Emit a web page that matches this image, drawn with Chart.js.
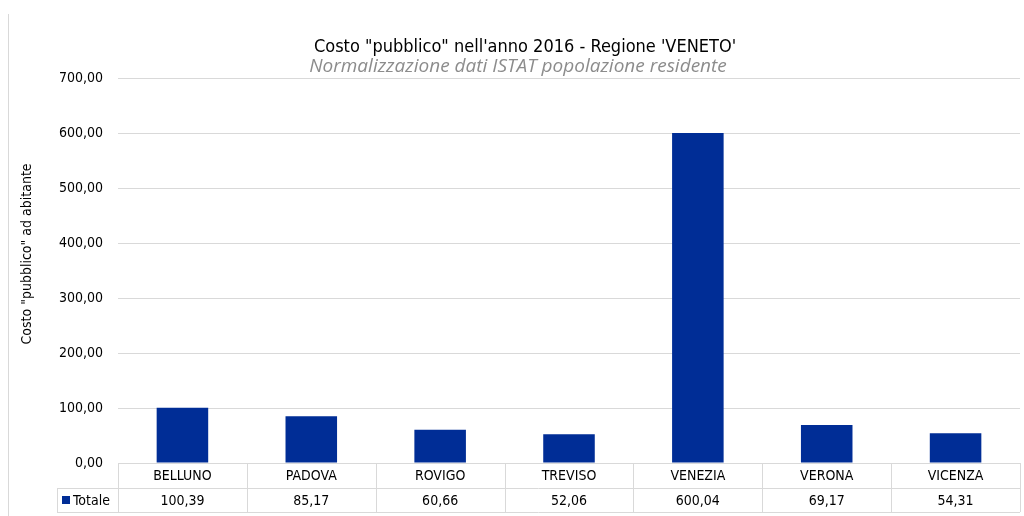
<!DOCTYPE html>
<html>
<head>
<meta charset="utf-8">
<script src="https://cdn.jsdelivr.net/npm/chart.js@4.4.1/dist/chart.umd.min.js"></script>
<style>
  body { margin: 0; background: #fff; }
  #wrap { width: 1024px; height: 516px; }
</style>
</head>
<body>
<div id="wrap"><canvas id="chart"></canvas></div>
<script>
// data
const province = ['BELLUNO', 'PADOVA', 'ROVIGO', 'TREVISO', 'VENEZIA', 'VERONA', 'VICENZA'];
const totale = [100.39, 85.17, 60.66, 52.06, 600.04, 69.17, 54.31];
const seriesName = 'Totale';
const titolo = 'Costo "pubblico" nell\'anno 2016 - Regione \'VENETO\'';
const sottotitolo = 'Normalizzazione dati ISTAT popolazione residente';
const yTitolo = 'Costo "pubblico" ad abitante';

const narrow = '"Liberation Sans Narrow", "DejaVu Sans Condensed", "Roboto", sans-serif';
const blu = '#002d96';
const lineCol = '#d9d9d9';

const fmt = v => v.toFixed(2).replace('.', ',');

// draws title, y title, and the data table under the plot
const tablePlugin = {
    id: 'tablePlugin',
    afterDraw(chart) {
        const ctx = chart.ctx;
        const area = chart.chartArea;
        const x = chart.scales.x;
        const n = province.length;
        const step = (area.right - area.left) / n;
        const row1 = area.bottom + 25;
        const row2 = area.bottom + 49;

        ctx.save();
        // outer frame line on the left
        ctx.strokeStyle = lineCol;
        ctx.lineWidth = 1;
        ctx.beginPath();
        ctx.moveTo(8.5, 14);
        ctx.lineTo(8.5, 516);
        ctx.stroke();

        // table lines
        ctx.beginPath();
        ctx.moveTo(area.left, area.bottom + 0.5);
        ctx.lineTo(area.right, area.bottom + 0.5);
        ctx.moveTo(57, row1 + 0.5);
        ctx.lineTo(area.right, row1 + 0.5);
        ctx.moveTo(57, row2 + 0.5);
        ctx.lineTo(area.right, row2 + 0.5);
        ctx.moveTo(57.5, row1);
        ctx.lineTo(57.5, row2);
        for (let i = 0; i <= n; i++) {
            const px = Math.round(area.left + i * step) + 0.5;
            ctx.moveTo(px, area.bottom);
            ctx.lineTo(px, row2);
        }
        ctx.stroke();

        // table text
        ctx.fillStyle = '#000';
        ctx.font = '14px ' + narrow;
        ctx.textAlign = 'center';
        ctx.textBaseline = 'middle';
        province.forEach((p, i) => {
            const cx = x.getPixelForValue(i);
            ctx.fillText(p, cx, (area.bottom + row1) / 2 + 1);
            ctx.fillText(fmt(totale[i]), cx, (row1 + row2) / 2 + 1);
        });

        // legend key
        ctx.fillStyle = blu;
        ctx.fillRect(62, row1 + 8, 8, 8);
        ctx.fillStyle = '#000';
        ctx.textAlign = 'left';
        ctx.fillText(seriesName, 73, (row1 + row2) / 2 + 1);

        // titles
        ctx.textAlign = 'center';
        ctx.textBaseline = 'alphabetic';
        ctx.font = '18px ' + narrow;
        ctx.fillText(titolo, 525, 52);
        ctx.fillStyle = '#8c8c8c';
        ctx.font = 'italic 19px "Open Sans", sans-serif';
        ctx.fillText(sottotitolo, 518, 72);

        // y axis title
        ctx.fillStyle = '#000';
        ctx.font = '14px ' + narrow;
        ctx.translate(27, 254);
        ctx.rotate(-Math.PI / 2);
        ctx.textBaseline = 'middle';
        ctx.fillText(yTitolo, 0, 0);
        ctx.restore();
    }
};

new Chart(document.getElementById('chart'), {
    type: 'bar',
    data: {
        labels: province,
        datasets: [{
            label: seriesName,
            data: totale,
            backgroundColor: blu,
            categoryPercentage: 1,
            barPercentage: 0.4
        }]
    },
    options: {
        responsive: true,
        maintainAspectRatio: false,
        animation: false,
        layout: { padding: { top: 78, bottom: 53, right: 4, left: 0 } },
        plugins: {
            legend: { display: false },
            title: { display: false },
            tooltip: { enabled: false }
        },
        scales: {
            x: { display: false },
            y: {
                min: 0,
                max: 700,
                afterFit: s => { s.width = 118; },
                ticks: {
                    stepSize: 100,
                    padding: 15,
                    color: '#000',
                    font: { family: narrow, size: 14 },
                    callback: v => fmt(v)
                },
                grid: { color: lineCol, drawTicks: false },
                border: { display: false }
            }
        }
    },
    plugins: [tablePlugin]
});
</script>
</body>
</html>
